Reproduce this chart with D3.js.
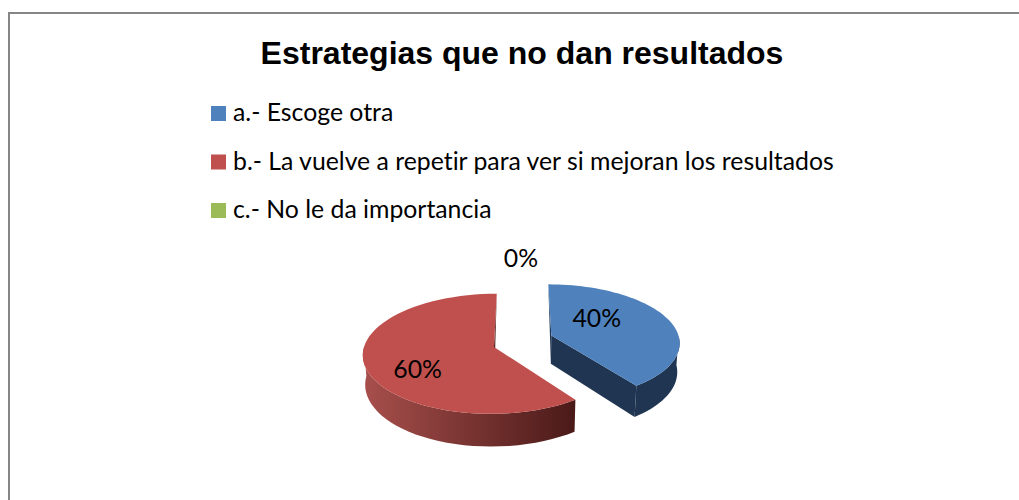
<!DOCTYPE html>
<html><head><meta charset="utf-8">
<script src="https://cdn.jsdelivr.net/npm/d3@7"></script>
<style>html,body{margin:0;padding:0;background:#fff}svg{display:block}text{font-variant-ligatures:none}</style>
</head><body><svg id="c" width="1019" height="500"></svg>
<script>
const titleText = "Estrategias que no dan resultados";
const categories = ["a.- Escoge otra","b.- La vuelve a repetir para ver si mejoran los resultados","c.- No le da importancia"];
const values = [40,60,0];
const colors = ["#4f81bd","#c0504d","#9bbb59"];
const sideColors = [["#1f3552","#1f3552"],["#a84f4c","#4a1a18"],["#6f8a3c","#6f8a3c"]];
const explodeX = [31,-27,0];
const explodeY = [26,0,13];
const labelRadius = [0.6,0.6,1.3];
const labelShift = [[-25,-6],[0,12],[0,-16]];

const svg = d3.select("#c");
const font = "Lato, Carlito, sans-serif";
const vx=521, cy=347, R=130, f=0.456, D=1150, depth=29;

svg.append("path").attr("d","M9 500V13H1019").attr("fill","none").attr("stroke","#868686").attr("stroke-width",2);
svg.append("text").attr("x",522).attr("y",64).attr("text-anchor","middle")
  .attr("font-family","'Liberation Sans',Arial,sans-serif").attr("font-weight","700").attr("font-size",32).attr("fill","#000").text(titleText);

const legendY = d3.scalePoint().domain(categories).range([113,210]);
const lg = svg.selectAll("g.lg").data(categories).join("g").attr("class","lg").attr("transform",d=>`translate(211,${legendY(d)})`);
lg.append("rect").attr("y",-7).attr("width",15).attr("height",15).attr("fill",(d,i)=>colors[i]);
lg.append("text").attr("x",22).attr("y",8).attr("font-family",font).attr("font-size",24.8).attr("fill","#000").text(d=>d);

const pie = d3.pie().value(d=>d).sort(null);
const arcs = pie(values);
function proj(X,Y,z){
  const s=1/(1+Y/D);
  return [vx+X*s*(z?0.985:1), cy-f*Y*s+z*s];
}
function pt(i,a,r,z){
  return proj(explodeX[i]+R*r*Math.sin(a), explodeY[i]+R*r*Math.cos(a), z||0);
}
const line=d3.line();
const defs=svg.append("defs");
function samples(a0,a1){return d3.range(0,61).map(t=>a0+(a1-a0)*t/60);}

function drawSlice(d,i){
  if(d.endAngle-d.startAngle<=0) return;
  const g=svg.append("g");
  const top=samples(d.startAngle,d.endAngle);
  const apex=pt(i,0,0,0), apexB=pt(i,0,0,depth);
  const outerTop=top.map(a=>pt(i,a,1,0));
  const vis=top.filter(a=>Math.cos(a)<0.02);
  if(vis.length){
    const xs=vis.map(a=>pt(i,a,1,0)[0]);
    const id="side"+i;
    const gr=defs.append("linearGradient").attr("id",id).attr("gradientUnits","userSpaceOnUse")
      .attr("x1",d3.min(xs)).attr("x2",d3.max(xs)).attr("y1",0).attr("y2",0);
    gr.append("stop").attr("offset",0).attr("stop-color",sideColors[i][0]);
    gr.append("stop").attr("offset",1).attr("stop-color",sideColors[i][1]);
    const wall=vis.map(a=>pt(i,a,1,0)).concat(vis.slice().reverse().map(a=>pt(i,a,1,depth)));
    g.append("path").attr("d",line(wall)+"Z").attr("fill",`url(#${id})`);
  }
  if(d.startAngle<Math.PI/2){
    g.append("path").attr("d",line([pt(i,d.startAngle,1,0),apex,apexB])+"Z").attr("fill",sideColors[i][0]);
    g.append("path").attr("d",line([apex,pt(i,d.endAngle,1,0),pt(i,d.endAngle,1,depth),apexB])+"Z").attr("fill",sideColors[i][1]);
  } else {
    g.append("path").attr("d",line([apex,pt(i,d.endAngle,1,0),apexB])+"Z").attr("fill",sideColors[i][1]);
  }
  g.append("path").attr("d",line([apex,...outerTop])+"Z").attr("fill",colors[i]);
}
arcs.forEach(drawSlice);

arcs.forEach((d,i)=>{
  const m=(d.startAngle+d.endAngle)/2;
  const p=pt(i,m===0?Math.PI*2:m,labelRadius[i],0);
  svg.append("text").attr("x",p[0]+labelShift[i][0]).attr("y",p[1]+labelShift[i][1]+8).attr("text-anchor","middle")
    .attr("font-family",font).attr("font-size",24.8).attr("fill","#000").text(d3.format(".0%")(d.value/d3.sum(values)));
});
</script></body></html>
